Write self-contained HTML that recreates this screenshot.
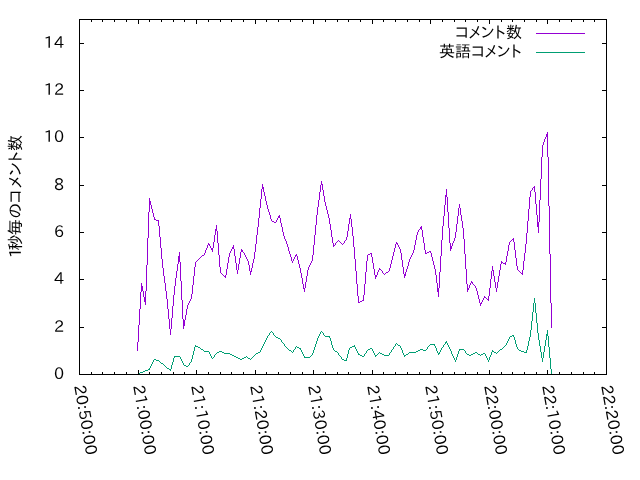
<!DOCTYPE html>
<html lang="ja"><head><meta charset="utf-8"><title>1秒毎のコメント数</title>
<style>html,body{margin:0;padding:0;background:#fff;overflow:hidden}svg{display:block}text{font-family:"IPAPGothic","IPA Pゴシック","IPAGothic","Liberation Sans","Noto Sans CJK JP",sans-serif;font-size:16px;fill:#000}</style></head><body>
<svg width="640" height="480" viewBox="0 0 640 480">
<rect width="640" height="480" fill="#fff"/>
<path d="M137.5 342v9M138.5 325v17M139.5 309v16M140.5 292v17M141.5 283v9M142.5 286v5M143.5 291v6M144.5 297v5M145.5 291v14M146.5 265v26M147.5 238v27M148.5 212v26M149.5 198v14M150.5 201v4M151.5 205v4M152.5 209v4M153.5 213v4M154.5 217v3M155.5 219v1M156.5 220v1M157.5 220v1M158.5 220v6M159.5 226v11M160.5 237v11M161.5 248v11M162.5 259v9M163.5 268v8M164.5 276v7M165.5 283v8M166.5 291v8M167.5 299v10M168.5 309v10M169.5 319v10M170.5 329v6M171.5 318v11M172.5 306v12M173.5 295v11M174.5 286v9M175.5 278v8M176.5 271v7M177.5 264v7M178.5 256v8M179.5 252v10M180.5 262v19M181.5 281v19M182.5 300v19M183.5 319v10M184.5 320v6M185.5 315v5M186.5 309v6M187.5 305v4M188.5 303v2M189.5 301v2M190.5 299v2M191.5 294v5M192.5 285v9M193.5 276v9M194.5 267v9M195.5 262v5M196.5 261v1M197.5 260v1M198.5 259v1M199.5 258v1M200.5 257v1M201.5 256v1M202.5 255v1M203.5 255v1M204.5 253v2M205.5 250v3M206.5 248v2M207.5 245v3M208.5 243v2M209.5 244v2M210.5 246v2M211.5 248v2M212.5 248v4M213.5 242v6M214.5 235v7M215.5 229v6M216.5 225v6M217.5 231v12M218.5 243v12M219.5 255v12M220.5 267v6M221.5 273v1M222.5 274v1M223.5 275v1M224.5 276v1M225.5 275v3M226.5 269v6M227.5 263v6M228.5 257v6M229.5 253v4M230.5 251v2M231.5 249v2M232.5 247v2M233.5 245v4M234.5 249v7M235.5 256v7M236.5 263v7M237.5 270v4M238.5 264v6M239.5 258v6M240.5 252v6M241.5 249v3M242.5 250v2M243.5 252v1M244.5 253v2M245.5 255v2M246.5 257v2M247.5 259v2M248.5 261v4M249.5 265v6M250.5 271v4M251.5 268v4M252.5 263v5M253.5 259v4M254.5 252v7M255.5 244v8M256.5 235v9M257.5 227v8M258.5 218v9M259.5 208v10M260.5 199v9M261.5 189v10M262.5 184v5M263.5 187v5M264.5 192v4M265.5 196v5M266.5 201v4M267.5 205v4M268.5 209v3M269.5 212v3M270.5 215v4M271.5 219v2M272.5 221v1M273.5 221v1M274.5 222v1M275.5 222v1M276.5 220v2M277.5 218v2M278.5 216v2M279.5 215v3M280.5 218v5M281.5 223v4M282.5 227v5M283.5 232v4M284.5 236v3M285.5 239v2M286.5 241v3M287.5 244v3M288.5 247v4M289.5 251v3M290.5 254v3M291.5 257v4M292.5 261v2M293.5 259v2M294.5 257v2M295.5 255v2M296.5 254v2M297.5 256v4M298.5 260v4M299.5 264v4M300.5 268v5M301.5 273v5M302.5 278v6M303.5 284v5M304.5 288v4M305.5 282v6M306.5 276v6M307.5 270v6M308.5 267v3M309.5 265v2M310.5 263v2M311.5 261v2M312.5 255v6M313.5 245v10M314.5 235v10M315.5 225v10M316.5 215v10M317.5 207v8M318.5 200v7M319.5 192v8M320.5 185v7M321.5 181v4M322.5 184v6M323.5 190v6M324.5 196v6M325.5 202v4M326.5 206v4M327.5 210v4M328.5 214v4M329.5 218v6M330.5 224v6M331.5 230v7M332.5 237v6M333.5 243v4M334.5 245v1M335.5 243v2M336.5 242v1M337.5 241v1M338.5 240v1M339.5 241v1M340.5 242v1M341.5 243v1M342.5 244v1M343.5 243v1M344.5 241v2M345.5 240v1M346.5 237v3M347.5 231v6M348.5 224v7M349.5 218v6M350.5 214v5M351.5 219v8M352.5 227v9M353.5 236v11M354.5 247v12M355.5 259v12M356.5 271v13M357.5 284v12M358.5 296v7M359.5 302v1M360.5 301v1M361.5 301v1M362.5 300v1M363.5 295v6M364.5 284v11M365.5 272v12M366.5 261v11M367.5 255v6M368.5 254v1M369.5 254v1M370.5 253v1M371.5 253v4M372.5 257v6M373.5 263v6M374.5 269v6M375.5 275v4M376.5 275v2M377.5 272v3M378.5 270v2M379.5 268v2M380.5 269v1M381.5 270v1M382.5 271v2M383.5 273v1M384.5 274v1M385.5 273v1M386.5 272v1M387.5 272v1M388.5 271v1M389.5 268v3M390.5 264v4M391.5 260v4M392.5 256v4M393.5 252v4M394.5 248v4M395.5 244v4M396.5 242v2M397.5 243v2M398.5 245v2M399.5 247v2M400.5 249v4M401.5 253v7M402.5 260v7M403.5 267v7M404.5 274v4M405.5 272v4M406.5 269v3M407.5 266v3M408.5 262v4M409.5 259v3M410.5 257v2M411.5 255v2M412.5 253v2M413.5 250v3M414.5 245v5M415.5 240v5M416.5 235v5M417.5 232v3M418.5 230v2M419.5 229v1M420.5 227v2M421.5 226v4M422.5 230v7M423.5 237v6M424.5 243v7M425.5 250v4M426.5 253v1M427.5 252v1M428.5 252v1M429.5 251v1M430.5 251v2M431.5 253v4M432.5 257v4M433.5 261v4M434.5 265v4M435.5 269v6M436.5 275v8M437.5 283v9M438.5 288v9M439.5 272v16M440.5 256v16M441.5 240v16M442.5 226v14M443.5 216v10M444.5 205v11M445.5 195v10M446.5 189v8M447.5 197v15M448.5 212v16M449.5 228v15M450.5 243v8M451.5 246v3M452.5 243v3M453.5 241v2M454.5 238v3M455.5 232v6M456.5 224v8M457.5 216v8M458.5 208v8M459.5 204v4M460.5 208v7M461.5 215v6M462.5 221v7M463.5 228v11M464.5 239v15M465.5 254v15M466.5 269v15M467.5 284v8M468.5 288v2M469.5 285v3M470.5 283v2M471.5 281v2M472.5 282v2M473.5 284v1M474.5 285v1M475.5 286v2M476.5 288v3M477.5 291v4M478.5 295v4M479.5 299v4M480.5 303v3M481.5 302v2M482.5 300v2M483.5 298v2M484.5 296v2M485.5 297v1M486.5 298v1M487.5 299v1M488.5 296v5M489.5 288v8M490.5 279v9M491.5 271v8M492.5 266v5M493.5 270v6M494.5 276v6M495.5 282v6M496.5 288v4M497.5 282v6M498.5 276v6M499.5 270v6M500.5 264v6M501.5 261v3M502.5 262v1M503.5 263v1M504.5 263v1M505.5 262v3M506.5 256v6M507.5 251v5M508.5 245v6M509.5 242v3M510.5 241v1M511.5 240v1M512.5 239v1M513.5 238v4M514.5 242v8M515.5 250v8M516.5 258v8M517.5 266v4M518.5 270v1M519.5 271v1M520.5 272v1M521.5 273v1M522.5 270v5M523.5 261v9M524.5 253v8M525.5 244v9M526.5 233v11M527.5 221v12M528.5 209v12M529.5 197v12M530.5 191v6M531.5 190v1M532.5 188v2M533.5 187v1M534.5 186v6M535.5 192v12M536.5 204v11M537.5 215v12M538.5 222v11M539.5 200v22M540.5 179v21M541.5 157v22M542.5 145v12M543.5 142v3M544.5 139v3M545.5 137v2M546.5 134v3M547.5 132v25M548.5 157v49M549.5 206v48M550.5 254v49M551.5 303v25" fill="none" stroke="#9400d3" stroke-width="1" shape-rendering="crispEdges"/>
<path d="M138.5 373v1M139.5 373v1M140.5 372v1M141.5 372v1M142.5 372v1M143.5 371v1M144.5 371v1M145.5 370v1M146.5 370v1M147.5 370v1M148.5 369v1M149.5 368v2M150.5 366v2M151.5 364v2M152.5 362v2M153.5 360v2M154.5 359v1M155.5 359v1M156.5 360v1M157.5 360v1M158.5 360v1M159.5 361v1M160.5 362v1M161.5 363v1M162.5 363v1M163.5 364v1M164.5 365v1M165.5 366v1M166.5 367v1M167.5 368v1M168.5 368v1M169.5 369v1M170.5 369v2M171.5 365v4M172.5 362v3M173.5 358v4M174.5 356v2M175.5 356v1M176.5 356v1M177.5 356v1M178.5 356v1M179.5 356v1M180.5 357v2M181.5 359v2M182.5 361v2M183.5 363v2M184.5 365v1M185.5 365v1M186.5 366v1M187.5 366v1M188.5 365v1M189.5 363v2M190.5 362v1M191.5 359v3M192.5 355v4M193.5 351v4M194.5 347v4M195.5 345v2M196.5 346v1M197.5 346v1M198.5 347v1M199.5 347v1M200.5 348v1M201.5 349v1M202.5 349v1M203.5 350v1M204.5 351v1M205.5 351v1M206.5 351v1M207.5 351v1M208.5 351v1M209.5 352v2M210.5 354v2M211.5 356v2M212.5 358v1M213.5 357v1M214.5 355v2M215.5 354v1M216.5 353v1M217.5 352v1M218.5 352v1M219.5 351v1M220.5 351v1M221.5 351v1M222.5 352v1M223.5 352v1M224.5 353v1M225.5 353v1M226.5 353v1M227.5 353v1M228.5 353v1M229.5 353v1M230.5 354v1M231.5 354v1M232.5 355v1M233.5 355v1M234.5 356v1M235.5 356v1M236.5 357v1M237.5 357v1M238.5 358v1M239.5 358v1M240.5 359v1M241.5 359v1M242.5 358v1M243.5 358v1M244.5 357v1M245.5 357v1M246.5 356v1M247.5 357v1M248.5 358v1M249.5 358v1M250.5 359v1M251.5 358v1M252.5 357v1M253.5 356v1M254.5 355v1M255.5 354v1M256.5 353v1M257.5 353v1M258.5 352v1M259.5 352v1M260.5 350v2M261.5 348v2M262.5 346v2M263.5 344v2M264.5 342v2M265.5 340v2M266.5 338v2M267.5 336v2M268.5 335v1M269.5 333v2M270.5 332v1M271.5 331v1M272.5 332v1M273.5 333v2M274.5 335v1M275.5 336v1M276.5 337v1M277.5 337v1M278.5 338v1M279.5 338v1M280.5 339v1M281.5 340v2M282.5 342v1M283.5 343v1M284.5 344v2M285.5 346v1M286.5 347v1M287.5 348v1M288.5 349v1M289.5 350v1M290.5 350v1M291.5 351v1M292.5 352v1M293.5 350v2M294.5 349v1M295.5 347v2M296.5 346v1M297.5 347v1M298.5 347v1M299.5 348v1M300.5 348v2M301.5 350v2M302.5 352v2M303.5 354v2M304.5 356v2M305.5 357v1M306.5 357v1M307.5 357v1M308.5 357v1M309.5 357v1M310.5 356v1M311.5 355v1M312.5 353v2M313.5 350v3M314.5 347v3M315.5 344v3M316.5 341v3M317.5 338v3M318.5 336v2M319.5 334v2M320.5 332v2M321.5 331v1M322.5 332v1M323.5 333v2M324.5 335v1M325.5 336v1M326.5 336v1M327.5 336v1M328.5 336v1M329.5 336v2M330.5 338v3M331.5 341v4M332.5 345v3M333.5 348v2M334.5 350v1M335.5 351v1M336.5 351v1M337.5 352v1M338.5 353v2M339.5 355v1M340.5 356v1M341.5 357v2M342.5 359v1M343.5 359v1M344.5 360v1M345.5 360v1M346.5 358v3M347.5 354v4M348.5 350v4M349.5 348v2M350.5 347v1M351.5 347v1M352.5 346v1M353.5 346v1M354.5 345v2M355.5 347v2M356.5 349v2M357.5 351v2M358.5 353v2M359.5 354v1M360.5 355v1M361.5 355v1M362.5 356v1M363.5 356v1M364.5 354v2M365.5 353v1M366.5 351v2M367.5 350v1M368.5 349v1M369.5 349v1M370.5 348v1M371.5 348v1M372.5 349v2M373.5 351v2M374.5 353v2M375.5 355v2M376.5 355v1M377.5 354v1M378.5 353v1M379.5 352v1M380.5 353v1M381.5 353v1M382.5 354v1M383.5 354v1M384.5 355v1M385.5 355v1M386.5 355v1M387.5 355v1M388.5 355v1M389.5 353v2M390.5 352v1M391.5 350v2M392.5 349v1M393.5 347v2M394.5 346v1M395.5 344v2M396.5 343v1M397.5 344v1M398.5 345v1M399.5 345v1M400.5 346v2M401.5 348v2M402.5 350v3M403.5 353v2M404.5 355v2M405.5 355v1M406.5 354v1M407.5 354v1M408.5 353v1M409.5 352v1M410.5 352v1M411.5 352v1M412.5 352v1M413.5 352v1M414.5 352v1M415.5 352v1M416.5 351v1M417.5 351v1M418.5 350v1M419.5 350v1M420.5 349v1M421.5 349v1M422.5 349v1M423.5 350v1M424.5 350v1M425.5 350v1M426.5 349v1M427.5 347v2M428.5 346v1M429.5 345v1M430.5 344v1M431.5 344v1M432.5 344v1M433.5 344v1M434.5 344v2M435.5 346v2M436.5 348v3M437.5 351v2M438.5 353v2M439.5 352v2M440.5 350v2M441.5 348v2M442.5 347v1M443.5 345v2M444.5 344v1M445.5 342v2M446.5 341v2M447.5 343v2M448.5 345v2M449.5 347v2M450.5 349v2M451.5 351v3M452.5 354v2M453.5 356v2M454.5 358v2M455.5 360v2M456.5 357v3M457.5 354v3M458.5 351v3M459.5 349v2M460.5 349v1M461.5 349v1M462.5 349v1M463.5 349v1M464.5 350v1M465.5 351v2M466.5 353v1M467.5 354v1M468.5 354v1M469.5 355v1M470.5 355v1M471.5 354v1M472.5 354v1M473.5 353v1M474.5 353v1M475.5 352v1M476.5 352v1M477.5 353v1M478.5 354v1M479.5 354v1M480.5 355v1M481.5 354v1M482.5 354v1M483.5 353v1M484.5 353v1M485.5 354v2M486.5 356v2M487.5 358v2M488.5 360v2M489.5 357v3M490.5 355v2M491.5 352v3M492.5 350v2M493.5 351v1M494.5 352v1M495.5 352v1M496.5 353v1M497.5 352v1M498.5 351v1M499.5 350v1M500.5 349v1M501.5 349v1M502.5 348v1M503.5 347v1M504.5 346v1M505.5 345v1M506.5 343v2M507.5 341v2M508.5 339v2M509.5 337v2M510.5 336v1M511.5 336v1M512.5 335v1M513.5 335v2M514.5 337v3M515.5 340v4M516.5 344v3M517.5 347v2M518.5 349v1M519.5 350v1M520.5 350v1M521.5 351v1M522.5 351v1M523.5 351v1M524.5 352v1M525.5 352v1M526.5 350v3M527.5 346v4M528.5 341v5M529.5 337v4M530.5 330v7M531.5 321v9M532.5 312v9M533.5 303v9M534.5 298v5M535.5 303v10M536.5 313v10M537.5 323v10M538.5 333v7M539.5 340v6M540.5 346v6M541.5 352v6M542.5 358v4M543.5 352v6M544.5 346v6M545.5 340v6M546.5 334v6M547.5 330v6M548.5 336v11M549.5 347v11M550.5 358v11M551.5 369v6" fill="none" stroke="#009e73" stroke-width="1" shape-rendering="crispEdges"/>
<path d="M536 33.5H585" stroke="#9400d3" stroke-width="1" shape-rendering="crispEdges"/>
<path d="M536 52.5H585" stroke="#009e73" stroke-width="1" shape-rendering="crispEdges"/>
<path d="M79.5 19.5H606.5V374.5H79.5ZM79 327.5h5M607 327.5h-5M79 279.5h5M607 279.5h-5M79 232.5h5M607 232.5h-5M79 185.5h5M607 185.5h-5M79 137.5h5M607 137.5h-5M79 90.5h5M607 90.5h-5M79 43.5h5M607 43.5h-5M91.5 375v-3M91.5 19v3M102.5 375v-3M102.5 19v3M114.5 375v-3M114.5 19v3M126.5 375v-3M126.5 19v3M138.5 375v-5M138.5 19v5M149.5 375v-3M149.5 19v3M161.5 375v-3M161.5 19v3M173.5 375v-3M173.5 19v3M184.5 375v-3M184.5 19v3M196.5 375v-5M196.5 19v5M208.5 375v-3M208.5 19v3M220.5 375v-3M220.5 19v3M231.5 375v-3M231.5 19v3M243.5 375v-3M243.5 19v3M255.5 375v-5M255.5 19v5M266.5 375v-3M266.5 19v3M278.5 375v-3M278.5 19v3M290.5 375v-3M290.5 19v3M302.5 375v-3M302.5 19v3M313.5 375v-5M313.5 19v5M325.5 375v-3M325.5 19v3M337.5 375v-3M337.5 19v3M348.5 375v-3M348.5 19v3M360.5 375v-3M360.5 19v3M372.5 375v-5M372.5 19v5M383.5 375v-3M383.5 19v3M395.5 375v-3M395.5 19v3M407.5 375v-3M407.5 19v3M419.5 375v-3M419.5 19v3M430.5 375v-5M430.5 19v5M442.5 375v-3M442.5 19v3M454.5 375v-3M454.5 19v3M465.5 375v-3M465.5 19v3M477.5 375v-3M477.5 19v3M489.5 375v-5M489.5 19v5M501.5 375v-3M501.5 19v3M512.5 375v-3M512.5 19v3M524.5 375v-3M524.5 19v3M536.5 375v-3M536.5 19v3M547.5 375v-5M547.5 19v5M559.5 375v-3M559.5 19v3M571.5 375v-3M571.5 19v3M583.5 375v-3M583.5 19v3M594.5 375v-3M594.5 19v3" fill="none" stroke="#000" stroke-width="1" shape-rendering="crispEdges"/>
<text x="64" y="378.5" text-anchor="end" textLength="10.08" lengthAdjust="spacingAndGlyphs">0</text>
<text x="64" y="331.5" text-anchor="end" textLength="10.08" lengthAdjust="spacingAndGlyphs">2</text>
<text x="64" y="283.5" text-anchor="end" textLength="10.08" lengthAdjust="spacingAndGlyphs">4</text>
<text x="64" y="236.5" text-anchor="end" textLength="10.08" lengthAdjust="spacingAndGlyphs">6</text>
<text x="64" y="189.5" text-anchor="end" textLength="10.08" lengthAdjust="spacingAndGlyphs">8</text>
<text x="64" y="141.5" text-anchor="end" textLength="20.16" lengthAdjust="spacingAndGlyphs">10</text>
<text x="64" y="94.5" text-anchor="end" textLength="20.16" lengthAdjust="spacingAndGlyphs">12</text>
<text x="64" y="47.5" text-anchor="end" textLength="20.16" lengthAdjust="spacingAndGlyphs">14</text>
<text transform="translate(79.5 385) rotate(80)" x="0" y="5.5" textLength="70.7" lengthAdjust="spacingAndGlyphs">20:50:00</text>
<text transform="translate(138.5 385) rotate(80)" x="0" y="5.5" textLength="70.7" lengthAdjust="spacingAndGlyphs">21:00:00</text>
<text transform="translate(196.5 385) rotate(80)" x="0" y="5.5" textLength="70.7" lengthAdjust="spacingAndGlyphs">21:10:00</text>
<text transform="translate(255.5 385) rotate(80)" x="0" y="5.5" textLength="70.7" lengthAdjust="spacingAndGlyphs">21:20:00</text>
<text transform="translate(313.5 385) rotate(80)" x="0" y="5.5" textLength="70.7" lengthAdjust="spacingAndGlyphs">21:30:00</text>
<text transform="translate(372.5 385) rotate(80)" x="0" y="5.5" textLength="70.7" lengthAdjust="spacingAndGlyphs">21:40:00</text>
<text transform="translate(430.5 385) rotate(80)" x="0" y="5.5" textLength="70.7" lengthAdjust="spacingAndGlyphs">21:50:00</text>
<text transform="translate(489.5 385) rotate(80)" x="0" y="5.5" textLength="70.7" lengthAdjust="spacingAndGlyphs">22:00:00</text>
<text transform="translate(547.5 385) rotate(80)" x="0" y="5.5" textLength="70.7" lengthAdjust="spacingAndGlyphs">22:10:00</text>
<text transform="translate(606.5 385) rotate(80)" x="0" y="5.5" textLength="70.7" lengthAdjust="spacingAndGlyphs">22:20:00</text>
<text transform="translate(15 196.5) rotate(-90)" x="-61.50 -53.90 -38.70 -21.90 -7.00 8.00 20.40 34.00 45.50" y="5.5">1秒毎のコメント数</text>
<text x="522" y="38" text-anchor="end" textLength="67.05" lengthAdjust="spacingAndGlyphs">コメント数</text>
<text x="522" y="57" text-anchor="end" textLength="83.05" lengthAdjust="spacingAndGlyphs">英語コメント</text>
</svg></body></html>
